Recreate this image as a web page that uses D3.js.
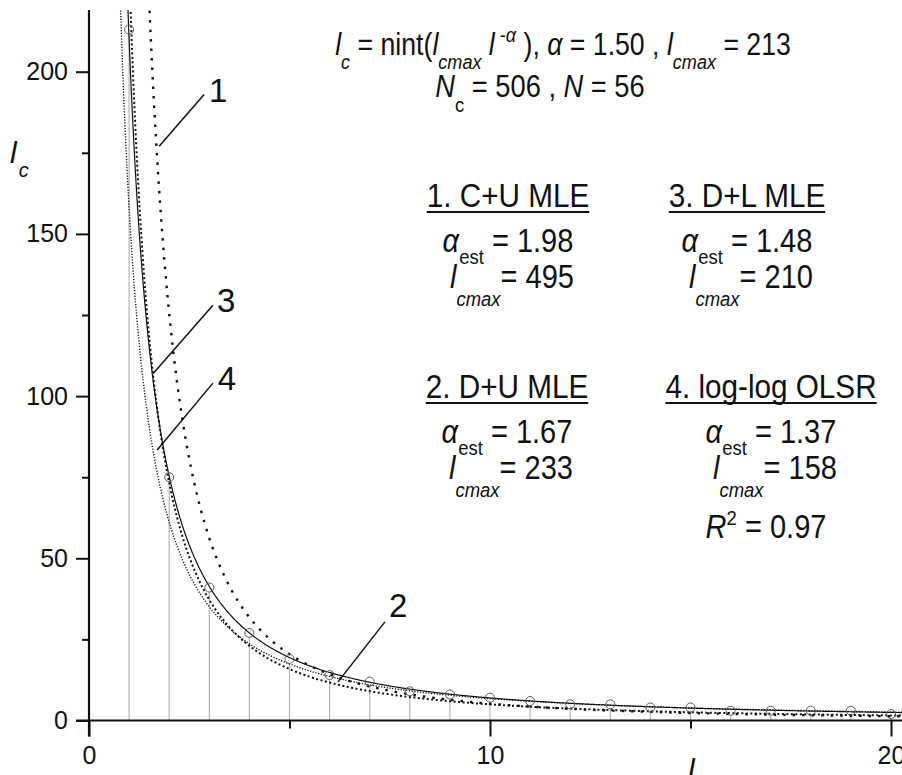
<!DOCTYPE html>
<html>
<head>
<meta charset="utf-8">
<script src="https://cdn.jsdelivr.net/npm/d3@7"></script>
<style>
  body { margin: 0; background: #fff; }
  svg { display: block; font-family: "Liberation Sans", Arial, sans-serif; }
  .tick text { font-size: 25px; fill: #111; }
</style>
</head>
<body>
<svg id="chart" width="902" height="775"></svg>
<script>
// rank l and counts lc = nint(lcmax * l^-alpha)
const lValues = [1, 2, 3, 4, 5, 6, 7, 8, 9, 10, 11, 12, 13, 14, 15, 16, 17, 18, 19, 20];
const lcValues = [213, 75, 41, 27, 19, 14, 12, 9, 8, 7, 6, 5, 5, 4, 4, 3, 3, 3, 3, 2];

// fitted power laws  lc = lcmax * l^-alpha
const fitIds = ["1", "2", "3", "4"];
const fitAlpha = [1.98, 1.67, 1.48, 1.37];
const fitLcmax = [495, 233, 210, 158];

const xTicks = [0, 10, 20];
const xMinorTicks = [5, 15];
const yTicks = [0, 50, 100, 150, 200];
const yMinorTicks = [25, 75, 125, 175];

// curve labels: pointer [l1, v1, l2, v2] and label position [l, v] in data units
const labelPointers = [[1.75, 177, 2.87, 193], [6.21, 11.9, 7.38, 30.4], [1.60, 107, 3.09, 128], [1.70, 83.4, 3.09, 104]];
const labelPos = [[3.22, 190.6], [7.71, 31.9], [3.42, 125.9], [3.44, 101.9]];

const svg = d3.select("#chart");

const x = d3.scaleLinear().domain([0, 20]).range([89, 891]);
const y = d3.scaleLinear().domain([0, 200]).range([720.5, 71.7]);
const yTop = 10, xRight = 902;

const dashes = ["2.5,7", "2,2.5", null, "1.2,1.6"];
const widths = [2.4, 2, 1.2, 1.4];

// clip region for the curves
svg.append("clipPath").attr("id", "plot")
  .append("rect").attr("x", x(0)).attr("y", yTop)
  .attr("width", xRight - x(0)).attr("height", y(0) - yTop);

// stems
svg.append("g").selectAll("line")
  .data(lValues)
  .join("line")
  .attr("x1", (d) => x(d)).attr("x2", (d) => x(d))
  .attr("y1", y(0)).attr("y2", (d, i) => y(lcValues[i]) + 4.5)
  .attr("stroke", "#b5b5b5").attr("stroke-width", 1.2);

// fitted curves
const samples = d3.range(0.6, 20.8, 0.02);
const line = d3.line().x((d) => x(d[0])).y((d) => y(d[1]));
const curves = svg.append("g").attr("clip-path", "url(#plot)");
fitIds.forEach((id, i) => {
  const pts = samples.map((l) => [l, Math.min(400, fitLcmax[i] * Math.pow(l, -fitAlpha[i]))]);
  curves.append("path")
    .attr("d", line(pts))
    .attr("fill", "none")
    .attr("stroke", "#111")
    .attr("stroke-width", widths[i])
    .attr("stroke-dasharray", dashes[i]);
});

// points
svg.append("g").selectAll("circle")
  .data(lValues)
  .join("circle")
  .attr("cx", (d) => x(d)).attr("cy", (d, i) => y(lcValues[i]))
  .attr("r", 4.5)
  .attr("fill", "none").attr("stroke", "#5a5a5a").attr("stroke-width", 1);

// axes
svg.append("g").attr("transform", `translate(${x(0)},0)`)
  .call(d3.axisLeft(y).tickValues(yTicks).tickSize(13).tickPadding(8));
svg.append("g").attr("transform", `translate(${x(0)},0)`)
  .call(d3.axisLeft(y).tickValues(yMinorTicks).tickSize(7).tickFormat(""));
svg.append("g").attr("transform", `translate(0,${y(0)})`)
  .call(d3.axisBottom(x).tickValues(xTicks).tickSize(16).tickPadding(10));
svg.append("g").attr("transform", `translate(0,${y(0)})`)
  .call(d3.axisBottom(x).tickValues(xMinorTicks).tickSize(8).tickFormat(""));
svg.selectAll(".domain").remove();
svg.selectAll(".tick line").attr("stroke", "#111").attr("stroke-width", 2);

svg.append("line").attr("x1", x(0)).attr("x2", x(0)).attr("y1", yTop).attr("y2", y(0) + 16)
  .attr("stroke", "#111").attr("stroke-width", 2.2);
svg.append("line").attr("x1", x(0) - 13).attr("x2", xRight).attr("y1", y(0)).attr("y2", y(0))
  .attr("stroke", "#111").attr("stroke-width", 2.2);

// axis titles
const yl = svg.append("text").attr("x", 10).attr("y", 163).attr("fill", "#111");
yl.append("tspan").attr("font-style", "italic").attr("font-size", 30).text("l");
yl.append("tspan").attr("font-style", "italic").attr("font-size", 20).attr("dx", 2).attr("dy", 14).text("c");
svg.append("text").attr("x", 688).attr("y", 780).attr("font-style", "italic")
  .attr("font-size", 30).attr("fill", "#111").text("l");

// curve labels
svg.append("g").selectAll("line")
  .data(labelPointers)
  .join("line")
  .attr("x1", (d) => x(d[0])).attr("y1", (d) => y(d[1]))
  .attr("x2", (d) => x(d[2])).attr("y2", (d) => y(d[3]))
  .attr("stroke", "#111").attr("stroke-width", 1.5);
svg.append("g").selectAll("text")
  .data(labelPos)
  .join("text")
  .attr("x", (d) => x(d[0])).attr("y", (d) => y(d[1]))
  .attr("text-anchor", "middle").attr("font-size", 33).attr("fill", "#111")
  .text((d, i) => fitIds[i]);

// rich text helper: parts [text, italic, shift(px), size]
function richText(cx, by, parts, size, sx, underline) {
  const t = svg.append("text")
    .attr("transform", `translate(${cx},${by}) scale(${sx},1)`)
    .attr("text-anchor", "middle").attr("fill", "#111").attr("font-size", size);
  let cur = 0;
  parts.forEach((p) => {
    const s = t.append("tspan").text(p[0]).attr("dy", (p[2] || 0) - cur);
    cur = p[2] || 0;
    if (p[1]) s.attr("font-style", "italic");
    if (p[3]) s.attr("font-size", p[3]);
  });
  if (underline) {
    const b = t.node().getBBox();
    svg.append("line")
      .attr("x1", cx + b.x * sx).attr("x2", cx + (b.x + b.width) * sx)
      .attr("y1", by + 5).attr("y2", by + 5)
      .attr("stroke", "#111").attr("stroke-width", 2);
  }
  return t;
}

const SUB = 21;
richText(563, 55, [["l", true], ["c", true, 14, SUB], [" = nint(", false], ["l", true],
  ["cmax", true, 14, SUB], [" l", true], [" -", false, -13, SUB], ["α", true, -13, SUB],
  [" ), ", false], ["α", true], [" = 1.50 , ", false], ["l", true], ["cmax", true, 14, SUB],
  [" = 213", false]], 31, 0.86);
richText(540, 97, [["N", true], ["c", false, 15, SUB], [" = 506 ,  ", false], ["N", true], [" = 56", false]], 31, 0.88);

const blocks = [
  { cx: 508, by: 207, head: "1. C+U MLE", a: fitAlpha[0], m: fitLcmax[0] },
  { cx: 507, by: 398, head: "2. D+U MLE", a: fitAlpha[1], m: fitLcmax[1] },
  { cx: 747, by: 207, head: "3. D+L MLE", a: fitAlpha[2], m: fitLcmax[2] },
  { cx: 771, by: 398, head: "4. log-log OLSR", a: fitAlpha[3], m: fitLcmax[3] }
];
blocks.forEach((b) => {
  richText(b.cx, b.by, [[b.head, false]], 33, 0.9, true);
  richText(b.cx, b.by + 45, [["α", true], ["est", false, 12, SUB], [" = " + b.a.toFixed(2), false]], 33, 0.88);
  richText(b.cx + 4, b.by + 81, [["l", true], ["cmax", true, 18, SUB], ["= " + b.m, false]], 33, 0.88);
});
richText(766, 538, [["R", true], ["2", false, -13, SUB], [" = 0.97", false]], 33, 0.88);
</script>
</body>
</html>
